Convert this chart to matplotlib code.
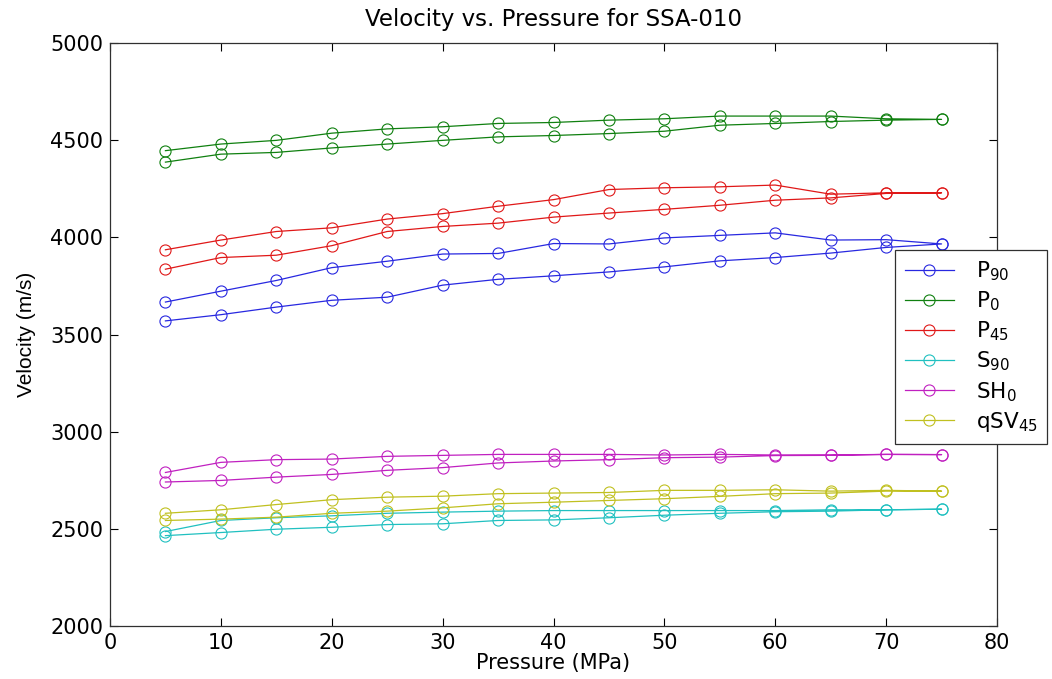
import numpy as np
import matplotlib
matplotlib.use("Agg")
import matplotlib.pyplot as plt

plt.rcParams['font.family'] = ['DejaVu Sans']
plt.rcParams['mathtext.default'] = 'regular'

#Pressure steps (MPa), loading then unloading
Pressure = [5, 10, 15, 20, 25, 30, 35, 40, 45, 50, 55, 60, 65, 70, 75]

#Velocity arrays (m/s), lower branch / upper branch
P90_lo = [3570, 3602, 3641, 3676, 3692, 3754, 3784, 3802, 3822, 3848, 3879, 3896, 3919, 3948, 3966]
P90_up = [3667, 3723, 3778, 3844, 3877, 3914, 3917, 3968, 3966, 3997, 4010, 4023, 3986, 3988, 3966]
P0_lo = [4387, 4428, 4437, 4460, 4480, 4499, 4517, 4524, 4534, 4546, 4577, 4586, 4596, 4603, 4607]
P0_up = [4446, 4480, 4499, 4536, 4558, 4569, 4586, 4591, 4603, 4610, 4624, 4624, 4624, 4610, 4607]
P45_lo = [3836, 3896, 3908, 3957, 4030, 4056, 4073, 4104, 4125, 4144, 4165, 4191, 4203, 4226, 4229]
P45_up = [3936, 3986, 4030, 4049, 4094, 4122, 4160, 4194, 4246, 4255, 4260, 4269, 4222, 4229, 4229]
S90_lo = [2465, 2481, 2498, 2508, 2522, 2526, 2543, 2546, 2557, 2570, 2580, 2588, 2591, 2598, 2601]
S90_up = [2486, 2543, 2557, 2567, 2580, 2586, 2591, 2594, 2594, 2594, 2594, 2594, 2598, 2598, 2601]
SH0_lo = [2741, 2749, 2766, 2780, 2801, 2815, 2839, 2849, 2856, 2866, 2869, 2877, 2878, 2883, 2882]
SH0_up = [2790, 2842, 2856, 2859, 2873, 2878, 2883, 2883, 2883, 2880, 2883, 2880, 2880, 2883, 2882]
qSV45_lo = [2543, 2550, 2560, 2580, 2591, 2608, 2629, 2637, 2646, 2655, 2667, 2681, 2684, 2694, 2694]
qSV45_up = [2580, 2598, 2625, 2650, 2663, 2668, 2681, 2684, 2687, 2698, 2698, 2701, 2694, 2698, 2694]

names = [r"P$_{90}$", r"P$_{0}$", r"P$_{45}$", r"S$_{90}$", r"SH$_{0}$", r"qSV$_{45}$"]
lows = [P90_lo, P0_lo, P45_lo, S90_lo, SH0_lo, qSV45_lo]
ups = [P90_up, P0_up, P45_up, S90_up, SH0_up, qSV45_up]
#MATLAB style colours
COL = ['#2828e0', '#108010', '#e01818', '#20c0c0', '#c020c0', '#c0c020']

fig = plt.figure(figsize=(10.52, 6.79), dpi=100)
ax = fig.add_axes([110/1052, 1-626/679, 887/1052, 583/679])

xs = Pressure + Pressure[::-1]
lines = []
for i in range(len(names)):
    ys = lows[i] + ups[i][::-1]
    lines += ax.plot(xs, ys, '-o', color=COL[i], lw=0.9, markersize=8,
                     markerfacecolor='none', markeredgewidth=0.8)

#Format the axes
ax.set_xlim(0, 80)
ax.set_ylim(2000, 5000)
ax.set_xticks(np.arange(0, 81, 10))
ax.set_yticks(np.arange(2000, 5001, 500))
ax.tick_params(direction='in', length=6, width=0.8, top=True, right=True, labelsize=15)
ax.tick_params(axis='x', pad=5)
ax.tick_params(axis='y', pad=5)
for s in ax.spines.values():
    s.set_linewidth(0.9)
    s.set_color('#303030')

#Label the axes
ax.set_xlabel("Pressure (MPa)", fontsize=15, labelpad=0)
ax.set_ylabel("Velocity (m/s)", fontsize=15, labelpad=10, family='Liberation Sans')
ax.set_title("Velocity vs. Pressure for SSA-010", fontsize=16.5, pad=12)

#Legend sticking out to the right
leg = ax.legend(lines, names, loc='upper left', bbox_to_anchor=(895/1052, 1-250/679),
                bbox_transform=fig.transFigure, borderaxespad=0, fontsize=15.5,
                fancybox=False, framealpha=1, edgecolor='#303030',
                handlelength=2.3, labelspacing=0.3, borderpad=0.45, handletextpad=1.0)
leg.get_frame().set_linewidth(0.9)

plt.savefig("out.png", dpi=100)
